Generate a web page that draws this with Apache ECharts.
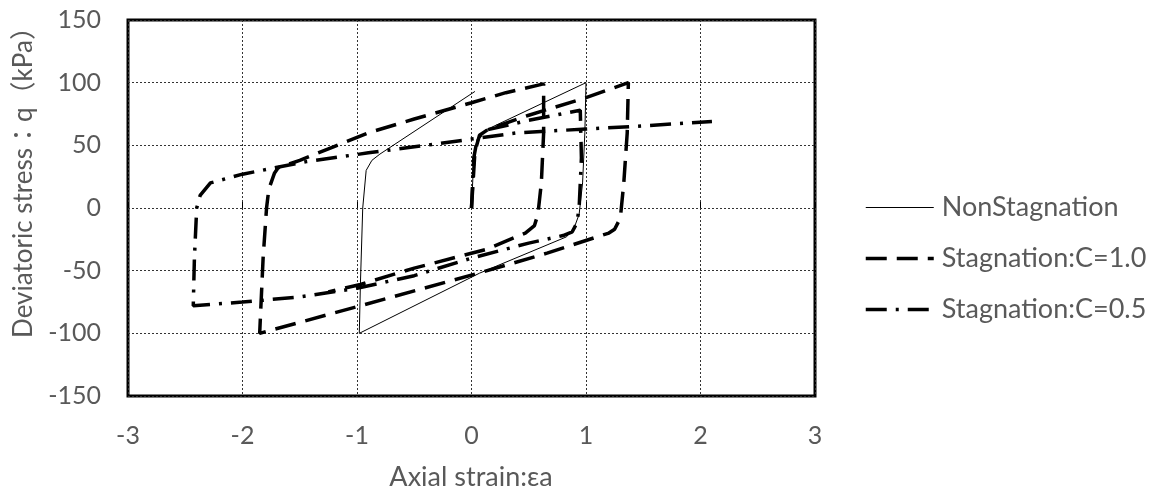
<!DOCTYPE html>
<html>
<head>
<meta charset="utf-8">
<script src="https://cdn.jsdelivr.net/npm/echarts@6/dist/echarts.min.js"></script>
<style>html,body{margin:0;padding:0;background:#fff}#c{width:1152px;height:491px}</style>
</head>
<body>
<div id="c"></div>
<script>
var seriesNames = ['NonStagnation', 'Stagnation:C=1.0', 'Stagnation:C=0.5'];
var xTicks = [-3, -2, -1, 0, 1, 2, 3];
var yTicks = [-150, -100, -50, 0, 50, 100, 150];
var xTitle = 'Axial strain:εa';
var yTitle = 'Deviatoric stress：q（kPa）';

var nonStagnation = [
  [0,0],[0.02,40],[0.05,55],[0.12,62],[1.0,100],[0.99,60],[0.97,20],[0.94,-5],[0.9,-15],[0.83,-23],
  [0.07,-52],[-0.98,-100],[-0.97,-60],[-0.95,0],[-0.92,30],[-0.87,38],[-0.8,43],[0.03,93]
];
var stagnationC10 = [
  [0,0],[0.03,45],[0.07,58],[0.15,63],[0.5,74],[1.0,88],[1.37,100],[1.36,60],[1.33,20],[1.3,-8],
  [1.25,-17],[1.2,-20],[0.66,-36],[0.1,-51],[-0.97,-78],[-1.85,-100],[-1.82,-40],[-1.79,0],[-1.77,15],
  [-1.72,28],[-1.69,32],[-1.5,38],[-1.2,49],[-0.9,60],[-0.5,71],[0,84],[0.3,92],[0.63,99],
  [0.63,60],[0.61,20],[0.58,-5],[0.55,-14],[0.47,-20],[0.13,-33],[-0.5,-48],[-0.97,-61],[-1.25,-67]
];
var stagnationC05 = [
  [0,0],[0.02,40],[0.05,55],[0.12,62],[0.5,70],[0.95,78],[0.96,40],[0.94,0],[0.92,-12],[0.88,-19],
  [0.8,-22],[0.5,-28],[0,-40],[-0.5,-54],[-1.0,-64],[-1.5,-71],[-2.0,-75],[-2.43,-78],[-2.42,-40],
  [-2.4,0],[-2.37,10],[-2.28,20],[-2.0,27],[-1.44,37],[-0.9,44],[-0.4,50],[0,55],[0.4,60],[1.0,63],
  [1.4,65],[2.1,69]
];

var font = 'Lato, "Noto Sans CJK JP", sans-serif';
var textColor = '#595959';
var chart = echarts.init(document.getElementById('c'), null, {renderer: 'canvas'});
chart.setOption({
  animation: false,
  backgroundColor: '#fff',
  grid: {left: 128, right: 337, top: 20, bottom: 95, show: true, borderColor: '#000', borderWidth: 3, backgroundColor: 'transparent'},
  xAxis: {
    type: 'value', min: xTicks[0], max: xTicks[xTicks.length - 1], interval: 1,
    axisLine: {show: false},
    axisTick: {show: true, inside: true, length: 6, lineStyle: {color: '#000', width: 1}},
    axisLabel: {color: textColor, fontSize: 25, fontFamily: font, margin: 27},
    splitLine: {show: true, lineStyle: {color: '#333', width: 1, type: [2, 2]}}
  },
  yAxis: {
    type: 'value', min: yTicks[0], max: yTicks[yTicks.length - 1], interval: 50,
    axisLine: {show: false},
    axisTick: {show: false},
    axisLabel: {color: textColor, fontSize: 25, fontFamily: font, margin: 27},
    splitLine: {show: true, lineStyle: {color: '#333', width: 1, type: [2, 2]}}
  },
  legend: {
    orient: 'vertical', left: 864, top: 192, padding: 0, itemWidth: 68, itemHeight: 14, itemGap: 20,
    itemStyle: {opacity: 0},
    lineStyle: {width: 'inherit', type: 'inherit'},
    textStyle: {color: textColor, fontSize: 27, fontFamily: font, lineHeight: 31, padding: [0, 0, 0, 3]},
    data: seriesNames
  },
  graphic: [
    {type: 'text', x: 471, y: 477,
     style: {text: xTitle, fill: textColor, fontSize: 27, fontFamily: font, textAlign: 'center', textVerticalAlign: 'middle'}},
    {type: 'text', rotation: Math.PI / 2, x: 24, y: 176,
     style: {text: yTitle, fill: textColor, fontSize: 26, fontFamily: font, textAlign: 'center', textVerticalAlign: 'middle'}}
  ],
  series: [
    {name: seriesNames[0], type: 'line', data: nonStagnation, showSymbol: false, symbol: 'none',
     lineStyle: {color: '#000', width: 1}, itemStyle: {color: '#000'}, z: 3},
    {name: seriesNames[1], type: 'line', data: stagnationC10, showSymbol: false, symbol: 'none',
     lineStyle: {color: '#000', width: 3.5, type: [21, 10]}, itemStyle: {color: '#000'}, z: 2},
    {name: seriesNames[2], type: 'line', data: stagnationC05, showSymbol: false, symbol: 'none',
     lineStyle: {color: '#000', width: 3.5, type: [21, 9, 3, 9]}, itemStyle: {color: '#000'}, z: 2}
  ]
});
</script>
</body>
</html>
